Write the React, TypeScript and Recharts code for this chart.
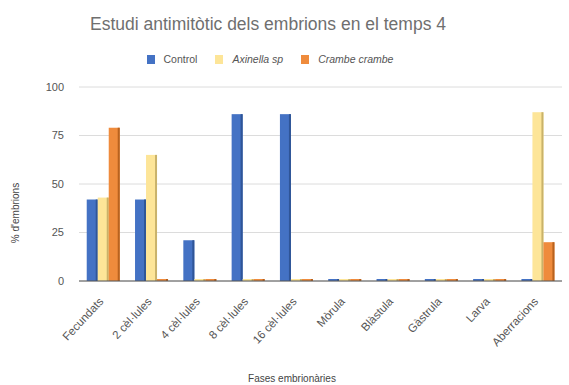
import React from 'react';
import { BarChart, Bar, XAxis, YAxis, CartesianGrid } from 'recharts';

const phases = [
  'Fecundats',
  '2 cèl·lules',
  '4 cèl·lules',
  '8 cèl·lules',
  '16 cèl·lules',
  'Mòrula',
  'Blàstula',
  'Gàstrula',
  'Larva',
  'Aberracions',
];
const control = [42, 42, 21, 86, 86, 0, 0, 0, 0, 0];
const axinella = [43, 65, 0, 0, 0, 0, 0, 0, 0, 87];
const crambe = [79, 0, 0, 0, 0, 0, 0, 0, 0, 20];
const yTicks = [0, 25, 50, 75, 100];

const data = phases.map((name, i) => ({
  name,
  control: control[i],
  axinella: axinella[i],
  crambe: crambe[i],
}));

const FONT = '"Liberation Sans", Arial, sans-serif';

const series = [
  { key: 'control', label: 'Control', color: '#4472c4', edge: '#2f5597', italic: false },
  { key: 'axinella', label: 'Axinella sp', color: '#fde598', edge: '#c9b26a', italic: true },
  { key: 'crambe', label: 'Crambe crambe', color: '#ef8b3c', edge: '#b8621f', italic: true },
];

const shaded = (fill: string, edge: string) => (props: any) => {
  const { x, y, width, height } = props;
  if (!height || height <= 0) return <g />;
  return (
    <g>
      <rect x={x} y={y} width={width} height={height} fill={fill} />
      <rect x={x + width - 2} y={y} width={2} height={height} fill={edge} />
    </g>
  );
};

// rotated category labels, right end just under the category
const XTick = ({ x, y, payload }: any) => (
  <g transform={`translate(${x + 1},${y + 13})`}>
    <text x={0} y={0} textAnchor="end" transform="rotate(-47)" fontSize={11.5} fontFamily={FONT} fill="#555">
      {payload.value}
    </text>
  </g>
);

const LegendBox = () => (
  <div
    style={{
      position: 'absolute',
      top: 53,
      left: 0,
      width: 540,
      display: 'flex',
      justifyContent: 'center',
      gap: 18,
      fontFamily: FONT,
      fontSize: 10.5,
      color: '#555',
    }}
  >
    {series.map((s) => (
      <span key={s.key} style={{ display: 'flex', alignItems: 'center', fontStyle: s.italic ? 'italic' : 'normal' }}>
        <span style={{ display: 'inline-block', width: 8, height: 9, background: s.color, marginRight: 9 }} />
        {s.label}
      </span>
    ))}
  </div>
);

export default function App() {
  return (
    <div style={{ position: 'absolute', left: 0, top: 0, width: 569, height: 385, background: '#fff' }}>
      <div
        style={{
          position: 'absolute',
          top: 14,
          left: 0,
          width: 536,
          textAlign: 'center',
          fontFamily: FONT,
          fontSize: 17.5,
          color: '#6f6f6f',
        }}
      >
        Estudi antimitòtic dels embrions en el temps 4
      </div>
      <LegendBox />
      <BarChart
        width={569}
        height={385}
        data={data}
        margin={{ top: 87, right: 7, left: 0, bottom: 74 }}
        barCategoryGap="16%"
        barGap={0}
      >
        <CartesianGrid vertical={false} stroke="#dcdcdc" />
        <XAxis
          dataKey="name"
          interval={0}
          height={30}
          tickLine={false}
          axisLine={{ stroke: '#555' }}
          tick={<XTick />}
          label={() => (
            <text x={292} y={382} textAnchor="middle" fontSize={10} fontFamily={FONT} fill="#444">
              Fases embrionàries
            </text>
          )}
        />
        <YAxis
          width={79}
          domain={[0, 100]}
          ticks={yTicks}
          tickLine={false}
          axisLine={false}
          tickMargin={9}
          tick={{ fontSize: 11, fontFamily: FONT, fill: '#555' }}
          label={() => (
            <text
              x={19}
              y={213}
              textAnchor="middle"
              transform="rotate(-90, 19, 213)"
              fontSize={10}
              fontFamily={FONT}
              fill="#444"
            >
              % d'embrions
            </text>
          )}
        />
        {series.map((s) => (
          <Bar
            key={s.key}
            dataKey={s.key}
            name={s.label}
            fill={s.color}
            minPointSize={2}
            shape={shaded(s.color, s.edge)}
            isAnimationActive={false}
          />
        ))}
      </BarChart>
    </div>
  );
}
